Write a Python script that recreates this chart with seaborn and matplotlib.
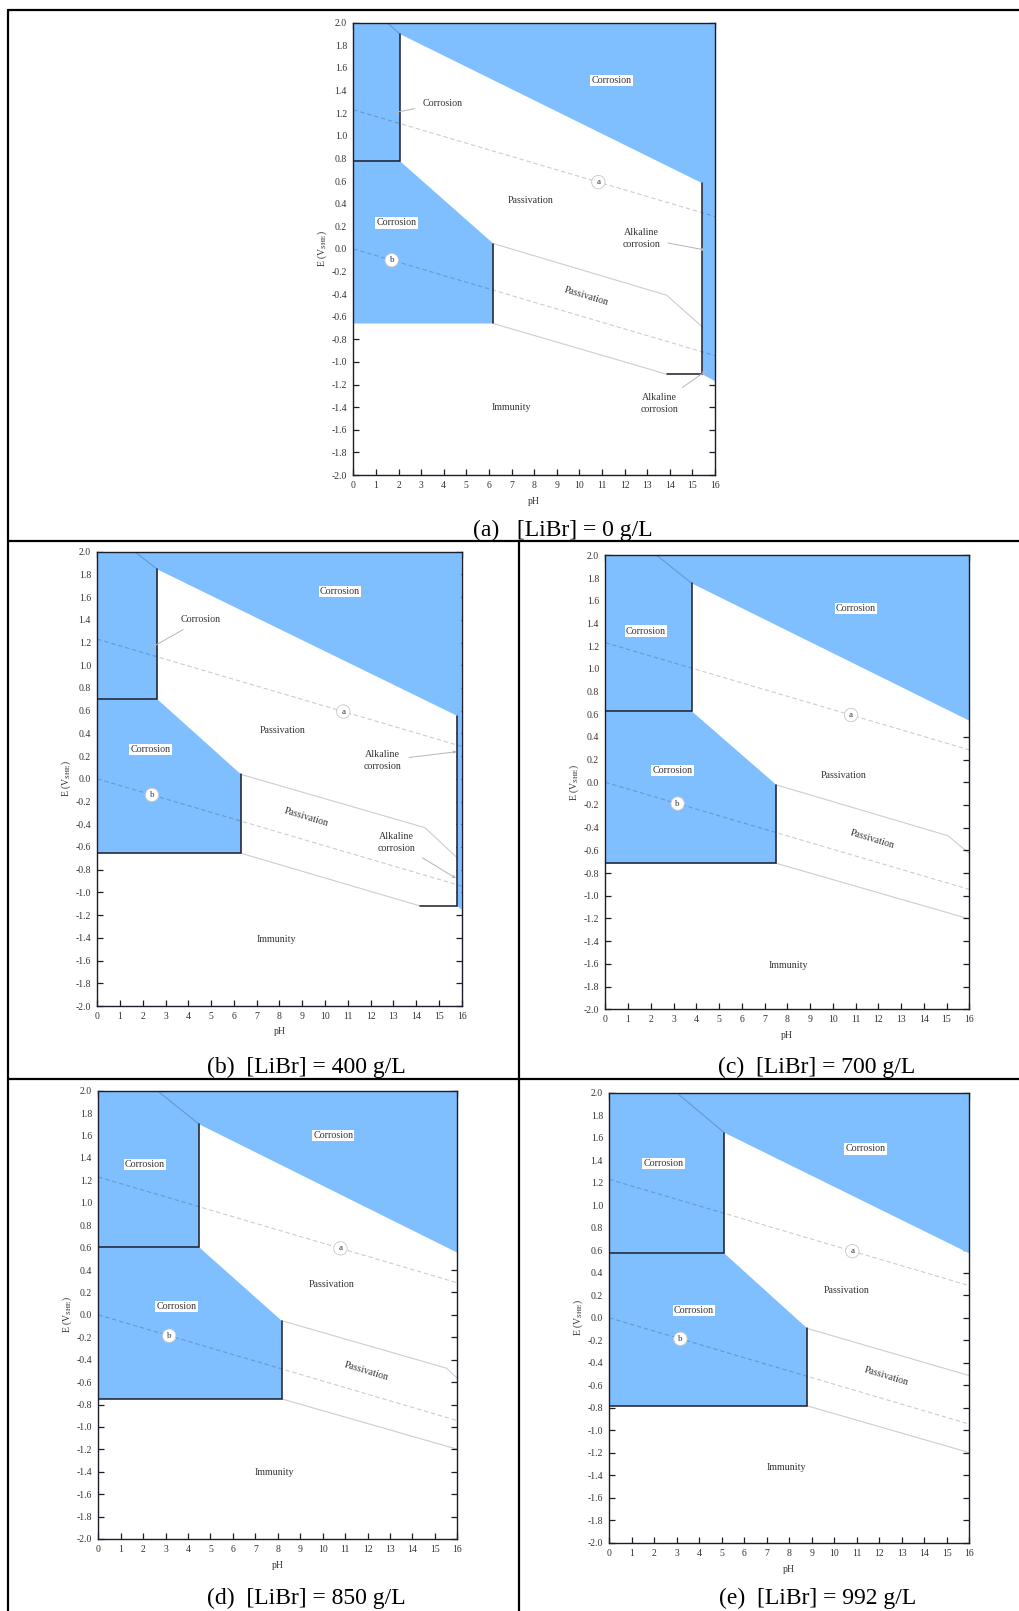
import matplotlib
matplotlib.use("Agg")
import matplotlib.pyplot as plt
from matplotlib.lines import Line2D
import pandas as pd
import seaborn as sns

sns.set_theme(style="ticks")
plt.rcParams["font.family"] = ["Liberation Serif", "DejaVu Serif"]
plt.rcParams["mathtext.fontset"] = "stix"
plt.rcParams["axes.unicode_minus"] = False

# ---------------------------------------------------------------- data
panel_ids = ["a", "b", "c", "d", "e"]
libr_conc = [0, 400, 700, 850, 992]          # g/L

# acid corrosion field (upper-left box)
box_ph = [2.06, 2.64, 3.80, 4.50, 5.11]
box_e_low = [0.776, 0.700, 0.626, 0.602, 0.573]
box_e_high = [1.900, 1.844, 1.753, 1.700, 1.645]
# transpassive boundary: where it leaves the top edge and where it ends on the right
trans_top_ph = [1.50, 1.65, 2.26, 2.63, 2.99]
trans_end_ph = [15.44, 15.79, 16.0, 16.0, 16.0]
trans_end_e = [0.580, 0.556, 0.543, 0.555, 0.573]
# lower corrosion field / passivation
pass_ph = [6.19, 6.31, 7.52, 8.17, 8.80]
pass_e_top = [0.047, 0.039, -0.023, -0.052, -0.094]
immun_e = [-0.660, -0.655, -0.714, -0.750, -0.782]
# upper passive-film boundary (kink, then end)
film_kink_ph = [13.86, 14.39, 15.05, 15.52, 16.0]
film_kink_e = [-0.410, -0.430, -0.470, -0.476, -0.513]
film_end_ph = [15.44, 15.79, 16.0, 16.0, 16.0]
film_end_e = [-0.690, -0.693, -0.626, -0.566, -0.513]
# immunity boundary end
immun_end_ph = [13.87, 14.17, 16.0, 16.0, 16.0]
immun_end_e = [-1.109, -1.119, -1.204, -1.199, -1.197]
# alkaline corrosion strip (present only for the two lowest concentrations)
alk_e_right = [-1.170, -1.150, None, None, None]

# water stability lines
water_ph = [0.0, 16.0]
oxygen_e = [1.23, 0.286]
hydrogen_e = [0.0, -0.944]

# ---------------------------------------------------------------- layout
W, H, DPI = 1019, 1611, 100
BLUE = "#80bfff"
EDGE = "#1c1c2a"
GREY = (0, 0, 0, 0.2)
TXT = "#333333"

axes_px = {
    "a": (353.3, 22.7, 715.0, 475.0),
    "b": (97.3, 551.7, 461.7, 1006.0),
    "c": (605.3, 555.3, 969.3, 1009.3),
    "d": (98.3, 1090.7, 457.3, 1539.0),
    "e": (609.3, 1092.7, 969.3, 1543.0),
}
caption_px = {
    "a": (563, 530), "b": (306, 1067), "c": (817, 1067),
    "d": (306, 1598), "e": (818, 1598),
}

# region labels: (text, pH, E, style)
region_labels = {
    "a": [("Corrosion", 11.43, 1.49, "box"), ("Passivation", 7.86, 0.43, ""),
          ("Corrosion", 1.92, 0.23, "box"), ("Immunity", 7.0, -1.40, ""),
          ("Passivation", 10.32, -0.42, "rot")],
    "b": [("Corrosion", 10.66, 1.648, "box"), ("Passivation", 8.14, 0.427, ""),
          ("Corrosion", 2.34, 0.259, "box"), ("Immunity", 7.84, -1.418, ""),
          ("Passivation", 9.19, -0.339, "rot")],
    "c": [("Corrosion", 11.02, 1.533, "box"), ("Corrosion", 1.79, 1.333, "box"),
          ("Corrosion", 2.96, 0.103, "box"), ("Passivation", 10.46, 0.062, ""),
          ("Immunity", 8.04, -1.616, ""), ("Passivation", 11.73, -0.498, "rot")],
    "d": [("Corrosion", 10.47, 1.599, "box"), ("Corrosion", 2.08, 1.343, "box"),
          ("Corrosion", 3.49, 0.073, "box"), ("Passivation", 10.4, 0.275, ""),
          ("Immunity", 7.84, -1.407, ""), ("Passivation", 11.96, -0.507, "rot")],
    "e": [("Corrosion", 11.39, 1.50, "box"), ("Corrosion", 2.4, 1.369, "box"),
          ("Corrosion", 3.76, 0.063, "box"), ("Passivation", 10.55, 0.247, ""),
          ("Immunity", 7.88, -1.33, ""), ("Passivation", 12.33, -0.522, "rot")],
}
# callouts: (text, text pH, text E, target pH, target E)
callouts = {
    "a": [("Corrosion", 3.94, 1.286, 1.84, 1.206),
          ("Alkaline\ncorrosion", 12.76, 0.095, 15.56, -0.01),
          ("Alkaline\ncorrosion", 13.54, -1.368, 15.6, -1.08)],
    "b": [("Corrosion", 4.54, 1.401, 2.31, 1.149),
          ("Alkaline\ncorrosion", 12.53, 0.16, 15.78, 0.239),
          ("Alkaline\ncorrosion", 13.14, -0.558, 15.75, -0.875)],
}
# circled line markers: (letter, pH)
line_marks = {
    "a": [("a", 10.84), ("b", 1.70)],
    "b": [("a", 10.80), ("b", 2.40)],
    "c": [("a", 10.80), ("b", 3.18)],
    "d": [("a", 10.79), ("b", 3.16)],
    "e": [("a", 10.80), ("b", 3.16)],
}


def rect(x0, y0, x1, y1):
    return [x0 / W, 1 - y1 / H, (x1 - x0) / W, (y1 - y0) / H]


def grey_line(ax, xs, ys, dashed=False):
    df = pd.DataFrame({"pH": xs, "E": ys})
    sns.lineplot(data=df, x="pH", y="E", ax=ax, sort=False, estimator=None,
                 color=GREY, lw=0.8, linestyle=(0, (4, 2.5)) if dashed else "-",
                 zorder=3)


def e_on(line_e, ph):
    return line_e[0] + (line_e[1] - line_e[0]) * (ph - water_ph[0]) / (water_ph[1] - water_ph[0])


fig = plt.figure(figsize=(W / DPI, H / DPI), dpi=DPI)

for i, pid in enumerate(panel_ids):
    ax = fig.add_axes(rect(*axes_px[pid]))
    ax.set_xlim(0, 16)
    ax.set_ylim(-2.0, 2.0)
    ax.set_facecolor("white")

    # --- corrosion fields: acid box + transpassive field as one outline
    if alk_e_right[i] is not None:
        right_x = [16, 16, trans_end_ph[i], trans_end_ph[i]]
        right_y = [2.0, alk_e_right[i], immun_end_e[i], trans_end_e[i]]
    else:
        right_x = [16, 16]
        right_y = [2.0, trans_end_e[i]]
    upper_x = [0] + right_x + [box_ph[i], box_ph[i], 0]
    upper_y = [2.0] + right_y + [box_e_high[i], box_e_low[i], box_e_low[i]]
    ax.fill(upper_x, upper_y, color=BLUE, lw=0, zorder=1)
    ax.fill([0, box_ph[i], pass_ph[i], pass_ph[i], 0],
            [box_e_low[i], box_e_low[i], pass_e_top[i], immun_e[i], immun_e[i]],
            color=BLUE, lw=0, zorder=1)

    # --- thin boundaries
    grey_line(ax, [trans_top_ph[i], box_ph[i]], [2.0, box_e_high[i]])
    grey_line(ax, [pass_ph[i], film_kink_ph[i], film_end_ph[i]],
              [pass_e_top[i], film_kink_e[i], film_end_e[i]])
    grey_line(ax, [pass_ph[i], immun_end_ph[i]], [immun_e[i], immun_end_e[i]])
    grey_line(ax, water_ph, oxygen_e, dashed=True)
    grey_line(ax, water_ph, hydrogen_e, dashed=True)

    # --- heavy boundaries
    ax.plot([box_ph[i], box_ph[i], 0], [box_e_high[i], box_e_low[i], box_e_low[i]],
            color=EDGE, lw=1.1, zorder=4, solid_joinstyle="miter")
    if i == 0:
        ax.plot([pass_ph[i], pass_ph[i]], [pass_e_top[i], immun_e[i]],
                color=EDGE, lw=1.1, zorder=4)
    else:
        ax.plot([pass_ph[i], pass_ph[i], 0], [pass_e_top[i], immun_e[i], immun_e[i]],
                color=EDGE, lw=1.1, zorder=4, solid_joinstyle="miter")
    if alk_e_right[i] is not None:
        ax.plot([immun_end_ph[i], trans_end_ph[i], trans_end_ph[i]],
                [immun_end_e[i], immun_end_e[i], trans_end_e[i]],
                color=EDGE, lw=1.1, zorder=4, solid_joinstyle="miter")

    # --- labels
    for text, x, y, style in region_labels[pid]:
        kw = dict(ha="center", va="center", fontsize=7.2, color=TXT, zorder=6)
        if style == "box":
            kw["bbox"] = dict(boxstyle="square,pad=0.12", fc="white", ec="none")
        if style == "rot":
            kw["rotation"] = -17
            kw["rotation_mode"] = "anchor"
        ax.text(x, y, text, **kw)
    for text, tx, ty, px, py in callouts.get(pid, []):
        ax.annotate(text, xy=(px, py), xytext=(tx, ty), ha="center", va="center",
                    fontsize=7.2, color=TXT, zorder=6, linespacing=1.4,
                    arrowprops=dict(arrowstyle="-|>", color="#b5b5b5", lw=0.7,
                                    mutation_scale=4, shrinkA=3, shrinkB=0))
    for letter, x in line_marks[pid]:
        y = e_on(oxygen_e if letter == "a" else hydrogen_e, x)
        ax.text(x, y, letter, ha="center", va="center", fontsize=6.5, color=TXT,
                zorder=6,
                bbox=dict(boxstyle="circle,pad=0.3", fc="white", ec="#c8c8c8", lw=0.6))

    # --- axes styling
    ax.set_xticks(range(0, 17))
    ax.set_yticks([round(-2.0 + 0.2 * k, 1) for k in range(21)])
    ax.set_yticklabels([f"{-2.0 + 0.2 * k:.1f}".replace("-0.0", "0.0") for k in range(21)])
    ax.tick_params(direction="in", length=4, width=0.9, top=True, right=True,
                   labelsize=7, colors=TXT, labelcolor=TXT, color=EDGE)
    ax.tick_params(axis="x", pad=4)
    ax.tick_params(axis="y", pad=4.5)
    for s in ax.spines.values():
        s.set_color(EDGE)
        s.set_linewidth(1.0)
        s.set_zorder(7)
    ax.set_xlabel("pH", fontsize=7, color=TXT, labelpad=5)
    ax.set_ylabel(r"E (V$_{\mathrm{SHE}}$)", fontsize=7, color=TXT, labelpad=2)

    cx, cy = caption_px[pid]
    gap = "   " if pid == "a" else "  "
    fig.text(cx / W, 1 - cy / H, f"({pid}){gap}[LiBr] = {libr_conc[i]} g/L",
             ha="center", va="center", fontsize=17, color="black")

# table frame around the panels
frame = [((8, 1019), (10, 10)), ((8, 8), (10, 1611)),
         ((8, 1019), (541, 541)), ((8, 1019), (1079, 1079)),
         ((519, 519), (541, 1611))]
for (x0, x1), (y0, y1) in frame:
    fig.add_artist(Line2D([x0 / W, x1 / W], [1 - y0 / H, 1 - y1 / H],
                          transform=fig.transFigure, color="black", lw=1.6))

fig.savefig("out.png", dpi=DPI)
